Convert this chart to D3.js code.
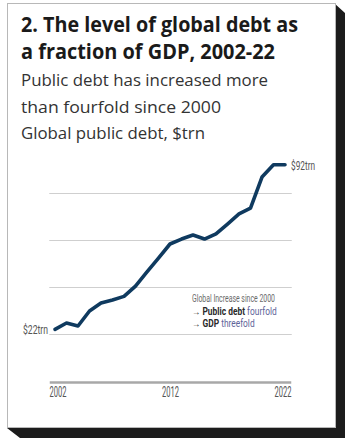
<!DOCTYPE html>
<html>
<head>
<meta charset="utf-8">
<script src="https://cdn.jsdelivr.net/npm/d3@7"></script>
<style>
  html, body { margin: 0; padding: 0; background: #ffffff; }
  svg { display: block; }
</style>
</head>
<body>
<svg id="chart" width="350" height="445"></svg>
<script>
// ---- data ----
const years = [2002, 2003, 2004, 2005, 2006, 2007, 2008, 2009, 2010, 2011, 2012,
               2013, 2014, 2015, 2016, 2017, 2018, 2019, 2020, 2021, 2022];
const publicDebt = [22, 24.7, 23.4, 29.8, 33.2, 34.5, 36.0, 40.4, 46.4, 52.3, 58.3,
                    60.4, 62.1, 60.4, 62.6, 66.8, 71.1, 73.6, 86.8, 92, 92];
const gridValues = [20, 40, 60, 80];
const tickYears = [2002, 2012, 2022];
const titleLines = ["2. The level of global debt as", "a fraction of GDP, 2002-22"];
const subtitleLines = ["Public debt has increased more", "than fourfold since 2000", "Global public debt, $trn"];
const startLabel = "$22trn";
const endLabel = "$92trn";

const svg = d3.select("#chart");

// ---- card with shadow ----
svg.append("polygon")
  .attr("points", "334,3 345,13 345,438 20,438 7,428 334,428")
  .attr("fill", "#1c1c1c");
svg.append("rect")
  .attr("x", 7.5).attr("y", 3.5).attr("width", 328).attr("height", 424)
  .attr("fill", "#ffffff").attr("stroke", "#b8b8b8").attr("stroke-width", 1);

// ---- titles ----
const titleFont = "'Open Sans', 'Noto Sans', sans-serif";
svg.selectAll(".title").data(titleLines).join("text")
  .attr("class", "title")
  .attr("x", 21).attr("y", (d, i) => 32 + i * 27)
  .attr("font-family", titleFont).attr("font-weight", 700).attr("font-size", 21)
  .attr("fill", "#1a1a1a")
  .attr("textLength", (d, i) => [277, 254][i]).attr("lengthAdjust", "spacingAndGlyphs")
  .text(d => d);

svg.selectAll(".subtitle").data(subtitleLines).join("text")
  .attr("class", "subtitle")
  .attr("x", 21).attr("y", (d, i) => 86 + i * 26.5)
  .attr("font-family", titleFont).attr("font-weight", 400).attr("font-size", 17)
  .attr("fill", "#333333")
  .attr("textLength", (d, i) => [247, 200, 184][i]).attr("lengthAdjust", "spacingAndGlyphs")
  .text(d => d);

// ---- scales ----
const x = d3.scaleLinear().domain([2001.5, 2022.5]).range([49.25, 290.75]);
const y = d3.scaleLinear().domain([20, 80]).range([334, 193]);

const narrow = "'Liberation Sans Narrow', 'Roboto', sans-serif";

// ---- gridlines ----
svg.append("g").selectAll("line").data(gridValues).join("line")
  .attr("x1", x(2001.5)).attr("x2", x(2022.5) + 1)
  .attr("y1", d => Math.round(y(d)) + 0.5).attr("y2", d => Math.round(y(d)) + 0.5)
  .attr("stroke", "#cfcfcf").attr("stroke-width", 1);

// ---- x axis ----
const axisG = svg.append("g")
  .attr("transform", "translate(0,382)")
  .call(d3.axisBottom(x).tickValues(tickYears).tickSize(0).tickPadding(5).tickFormat(d3.format("d")));
axisG.select(".domain").attr("stroke", "#a8a8a8").attr("stroke-width", 2.5);
axisG.selectAll(".tick text")
  .attr("font-family", narrow).attr("font-size", 14).attr("fill", "#555")
  .attr("text-anchor", d => d === 2002 ? "start" : d === 2022 ? "end" : "middle")
  .attr("dx", d => d === 2002 ? -6 : d === 2022 ? 6 : 0)
  .attr("textLength", 17).attr("lengthAdjust", "spacingAndGlyphs");

// ---- line ----
const data = years.map((yr, i) => ({ year: yr, value: publicDebt[i] }));
svg.append("path")
  .datum(data)
  .attr("fill", "none")
  .attr("stroke", "#0f3a5f")
  .attr("stroke-width", 3.6)
  .attr("stroke-linejoin", "round")
  .attr("stroke-linecap", "round")
  .attr("d", d3.line().x(d => x(d.year)).y(d => y(d.value)));

// ---- end labels ----
const first = data[0], last = data[data.length - 1];
svg.append("text")
  .attr("x", x(first.year) - 7).attr("y", y(first.value) + 5)
  .attr("text-anchor", "end")
  .attr("font-family", narrow).attr("font-size", 13.5).attr("fill", "#555")
  .attr("textLength", 25).attr("lengthAdjust", "spacingAndGlyphs")
  .text(startLabel);
svg.append("text")
  .attr("x", x(last.year) + 6).attr("y", y(last.value) + 5)
  .attr("font-family", narrow).attr("font-size", 13.5).attr("fill", "#555")
  .attr("textLength", 24).attr("lengthAdjust", "spacingAndGlyphs")
  .text(endLabel);

// ---- annotation ----
const ann = svg.append("g").attr("font-family", narrow).attr("font-size", 10);
ann.append("text").attr("x", 192).attr("y", 302).attr("fill", "#6b6b6b")
  .attr("textLength", 83).attr("lengthAdjust", "spacingAndGlyphs")
  .text("Global Increase since 2000");
const annLines = [
  { y: 315, bold: "\u2192 Public debt", light: "fourfold" },
  { y: 327, bold: "\u2192 GDP", light: "threefold" }
];
annLines.forEach(l => {
  const t = ann.append("g").attr("transform", `translate(192,${l.y}) scale(0.84,1)`)
    .append("text").attr("x", 0).attr("y", 0);
  t.append("tspan").attr("fill", "#2a2a2a").attr("font-weight", 700).text(l.bold + " ");
  t.append("tspan").attr("fill", "#5e6399").text(l.light);
});
</script>
</body>
</html>
